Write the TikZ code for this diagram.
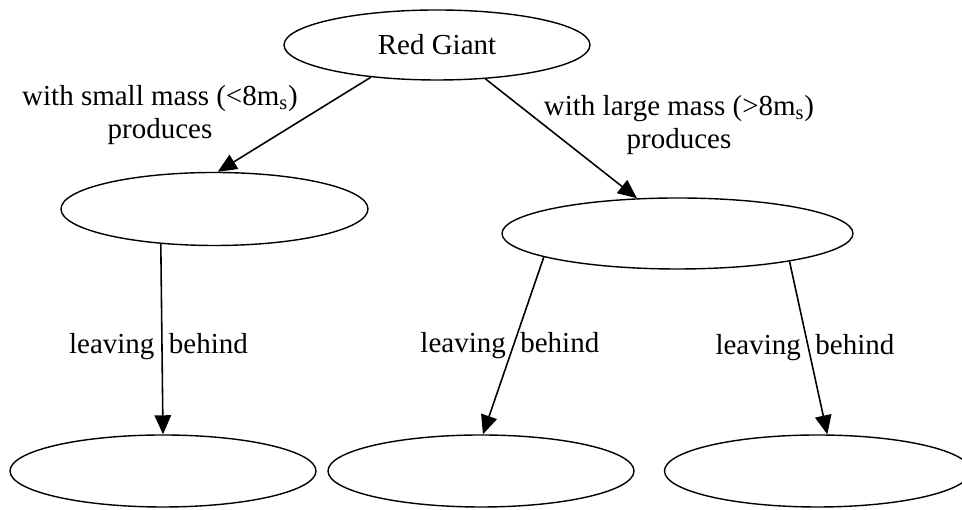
\documentclass[tikz,border=0pt]{standalone}
\usepackage{fontspec}
\setmainfont{Liberation Serif}
\usetikzlibrary{arrows.meta, positioning, shapes.geometric}

\begin{document}
\begin{tikzpicture}[
  >={Triangle[length=3.8mm, width=3.3mm]},
  every node/.style={font=\fontsize{16.5}{19}\selectfont},
  stage/.style={draw, ellipse, line width=0.8pt, inner sep=0pt, minimum width=6.12cm, minimum height=1.44cm},
  link/.style={->, line width=0.9pt},
  note/.style={align=center},
  leave/.style={pos=0.5, xshift=-2pt}
  ]
  \useasboundingbox (0,0) rectangle (19.24,10.2);
  \node[stage, minimum height=1.40cm] (giant) at (8.74, 9.30) {Red Giant};
  \node[stage, minimum height=1.46cm, minimum width=6.14cm] (smallp) at (4.29, 6.02) {};
  \node[stage, minimum height=1.42cm, minimum width=7.02cm] (largep) at (13.55, 5.53) {};
  \node[stage] (remL) at (3.26, 0.78) {};
  \node[stage] (remM) at (9.62, 0.78) {};
  \node[stage] (remR) at (16.35, 0.78) {};
  \draw[link] (giant.206) -- (smallp.85);
  \node[note] (smallnote) at (3.20, 7.90) {with small mass (<8m\textsubscript{s})\\produces};
  \draw[link] (giant.325) -- (largep.139);
  \node[note] (largenote) at (13.58, 7.70) {with large mass (>8m\textsubscript{s})\\produces};
  \draw[link] (smallp.213) -- node[leave, pos=0.54] {leaving\hspace{0.5em}behind} (remL.north);
  \draw[link] (largep.190) -- node[leave] {leaving\hspace{0.5em}behind} (remM.87);
  \draw[link] (largep.346) -- node[leave] {leaving\hspace{0.5em}behind} (remR.75);
\end{tikzpicture}
\end{document}
